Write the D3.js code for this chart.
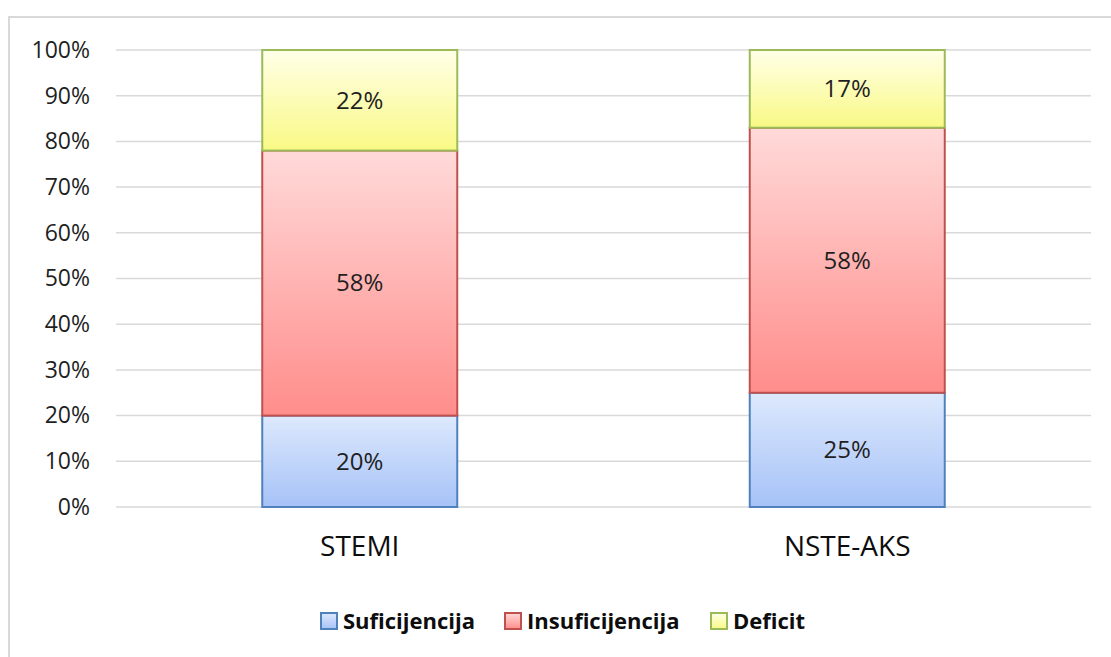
<!DOCTYPE html>
<html>
<head>
<meta charset="utf-8">
<script src="https://cdn.jsdelivr.net/npm/d3@7"></script>
<style>
  body { margin: 0; background: #fff; }
  svg { font-family: "Open Sans", sans-serif; }
</style>
</head>
<body>
<div id="graph"></div>
<script>
const categories = ["STEMI", "NSTE-AKS"]
const seriesNames = ["Suficijencija", "Insuficijencija", "Deficit"]
const suficijencija = [20, 25]
const insuficijencija = [58, 58]
const deficit = [22, 17]
const yTicks = [0, 10, 20, 30, 40, 50, 60, 70, 80, 90, 100]

const W = 1111, H = 657
const MARGIN = { LEFT: 116, RIGHT: 20, TOP: 50, BOTTOM: 150 }
const WIDTH = W - MARGIN.LEFT - MARGIN.RIGHT
const HEIGHT = H - MARGIN.TOP - MARGIN.BOTTOM

const colors = [
  { top: "#dde9fd", bottom: "#a6c2f7", stroke: "#4f81bd" },
  { top: "#ffdad9", bottom: "#ff8d8b", stroke: "#c0504d" },
  { top: "#ffffe8", bottom: "#f9f985", stroke: "#9bbb59" }
]

const svg = d3.select("#graph").append("svg")
    .attr("width", W)
    .attr("height", H)

// gradients
const defs = svg.append("defs")
colors.forEach((c, i) => {
  const grad = defs.append("linearGradient")
      .attr("id", "grad" + i)
      .attr("x1", 0).attr("y1", 0).attr("x2", 0).attr("y2", 1)
  grad.append("stop").attr("offset", "0%").attr("stop-color", c.top)
  grad.append("stop").attr("offset", "100%").attr("stop-color", c.bottom)
})

// outer frame (only left/top visible)
svg.append("path")
    .attr("d", `M9,${H} V17 H${W}`)
    .attr("fill", "none")
    .attr("stroke", "#d9d9d9")
    .attr("stroke-width", 2)

const g = svg.append("g")
    .attr("transform", `translate(${MARGIN.LEFT}, ${MARGIN.TOP})`)

const x = d3.scaleBand()
    .domain(categories)
    .range([0, WIDTH])
    .paddingInner(0.6)
    .paddingOuter(0.3)

const y = d3.scaleLinear()
    .domain([0, 100])
    .range([HEIGHT, 0])

// gridlines
g.selectAll(".grid")
    .data(yTicks)
    .enter().append("line")
    .attr("x1", 0)
    .attr("x2", WIDTH)
    .attr("y1", d => y(d))
    .attr("y2", d => y(d))
    .attr("stroke", "#d9d9d9")
    .attr("stroke-width", 1.5)

// y axis labels
const yAxisCall = d3.axisLeft(y)
    .tickValues(yTicks)
    .tickFormat(d => d + "%")
    .tickSize(0)
    .tickPadding(26)
const yAxis = g.append("g").call(yAxisCall)
yAxis.select(".domain").remove()
yAxis.selectAll("text")
    .attr("font-size", "23px")
    .attr("font-family", "Open Sans")
    .attr("fill", "#1f1f1f")

// x axis labels
const xAxisCall = d3.axisBottom(x).tickSize(0).tickPadding(29)
const xAxis = g.append("g")
    .attr("transform", `translate(0, ${HEIGHT})`)
    .call(xAxisCall)
xAxis.select(".domain").remove()
xAxis.selectAll("text")
    .attr("font-size", "28px")
    .attr("font-family", "Open Sans")
    .attr("fill", "#0d0d0d")

// stack
const rows = categories.map((c, i) => ({
  cat: c,
  Suficijencija: suficijencija[i],
  Insuficijencija: insuficijencija[i],
  Deficit: deficit[i]
}))
const stacked = d3.stack().keys(seriesNames)(rows)

const layers = g.selectAll(".layer")
    .data(stacked)
    .enter().append("g")
    .attr("class", "layer")

layers.selectAll("rect")
    .data((d, i) => d.map(s => ({ s, i })))
    .enter().append("rect")
    .attr("x", d => x(d.s.data.cat))
    .attr("width", x.bandwidth())
    .attr("y", d => y(d.s[1]))
    .attr("height", d => y(d.s[0]) - y(d.s[1]))
    .attr("fill", d => `url(#grad${d.i})`)
    .attr("stroke", d => colors[d.i].stroke)
    .attr("stroke-width", 2)

layers.selectAll("text")
    .data(d => d)
    .enter().append("text")
    .attr("x", d => x(d.data.cat) + x.bandwidth() / 2)
    .attr("y", d => y((d[0] + d[1]) / 2))
    .attr("dy", "0.35em")
    .attr("text-anchor", "middle")
    .attr("font-size", "24px")
    .attr("fill", "#1f1f1f")
    .text(d => (d[1] - d[0]) + "%")

// legend
const legendX = [320, 504, 710]
const legend = svg.append("g")
    .attr("transform", "translate(0, 612)")
const items = legend.selectAll(".item")
    .data(seriesNames)
    .enter().append("g")
    .attr("transform", (d, i) => `translate(${legendX[i]}, 0)`)
items.append("rect")
    .attr("x", 1).attr("y", 1)
    .attr("width", 16).attr("height", 16)
    .attr("fill", (d, i) => `url(#grad${i})`)
    .attr("stroke", (d, i) => colors[i].stroke)
    .attr("stroke-width", 2)
items.append("text")
    .attr("x", 23)
    .attr("y", 9)
    .attr("dy", "0.36em")
    .attr("font-size", "22px")
    .attr("font-weight", "bold")
    .attr("fill", "#0d0d0d")
    .text(d => d)
</script>
</body>
</html>
